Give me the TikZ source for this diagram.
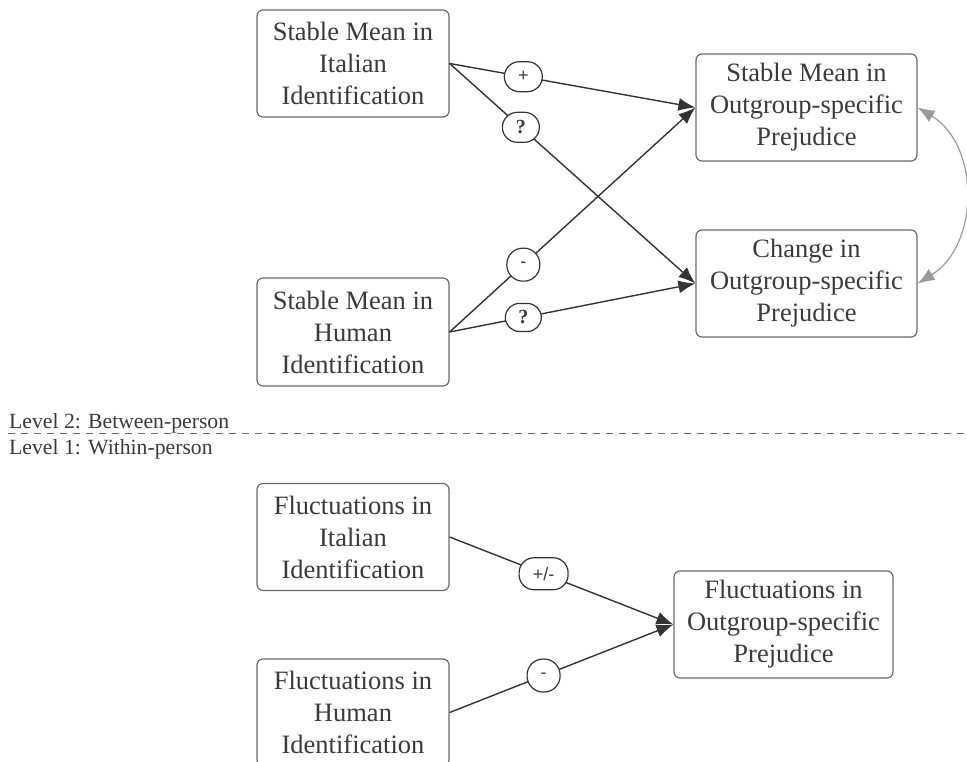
\documentclass[tikz,border=0pt]{standalone}
\usepackage{fontspec}
\setmainfont{Liberation Serif}
\newfontfamily\labsans{Liberation Sans}
\usetikzlibrary{arrows.meta}
\definecolor{txt}{HTML}{3A3A3A}
\definecolor{bord}{HTML}{6A6A6A}
\definecolor{lin}{HTML}{333333}
\definecolor{gline}{HTML}{9A9A9A}
\tikzset{
  box/.style={draw=bord, line width=1.2pt, rounded corners=6pt, inner sep=0pt,
    align=center, text=txt, font=\fontsize{26.5}{32}\selectfont},
  arr/.style={draw=lin, line width=1.4pt, -{Latex[length=17pt,width=13pt]}},
  lab/.style={draw=lin, line width=1.2pt, fill=white, rounded corners=15pt,
    inner sep=0pt, minimum height=30pt, text=txt, font=\labsans\fontsize{18}{20}\selectfont},
  qlab/.style={lab, font=\bfseries\fontsize{20}{22}\selectfont},
  garr/.style={draw=gline, line width=1.2pt, {Latex[length=17pt,width=13pt]}-{Latex[length=17pt,width=13pt]}},
  lvl/.style={text=txt, font=\fontsize{21.7}{24}\selectfont, inner sep=0pt, anchor=base west}
}
\begin{document}
\begin{tikzpicture}[x=1pt,y=-1pt]
\useasboundingbox (0,0) rectangle (967,762);
\node[box, minimum width=192pt, minimum height=107pt] (A) at (353,63.5) {Stable Mean in\\Italian\\Identification};
\node[box, minimum width=221pt, minimum height=107pt] (B) at (806.5,107.5) {Stable Mean in\\Outgroup-specific\\Prejudice};
\node[box, minimum width=221pt, minimum height=107pt] (C) at (806.5,283.5) {Change in\\Outgroup-specific\\Prejudice};
\node[box, minimum width=192pt, minimum height=108pt] (D) at (353,332) {Stable Mean in\\Human\\Identification};
\node[box, minimum width=192pt, minimum height=107pt] (E) at (353,537) {Fluctuations in\\Italian\\Identification};
\node[box, minimum width=219pt, minimum height=107pt] (F) at (783.5,624.5) {Fluctuations in\\Outgroup-specific\\Prejudice};
\node[box, minimum width=192pt, minimum height=107pt] (G) at (353,712.5) {Fluctuations in\\Human\\Identification};

\draw[arr] (A.east) -- node[lab, pos=.3, minimum width=38pt] {+} (B.west);
\draw[arr] (A.east) -- node[qlab, pos=.29, minimum width=37pt] {?} (C.west);
\draw[arr] (D.east) -- node[lab, pos=.30, minimum width=33pt, minimum height=33pt, rounded corners=16pt] {-} (B.west);
\draw[arr] (D.east) -- node[qlab, pos=.30, minimum width=36pt, minimum height=28pt, rounded corners=14pt] {?} (C.west);
\draw[garr] (B.east) .. controls (980,145) and (980,245) .. (C.east);

\draw[arr] (E.east) -- node[lab, pos=.42, minimum width=49pt, minimum height=32pt] {+/-} (F.west);
\draw[arr] (G.east) -- node[lab, pos=.42, minimum width=33pt, minimum height=33pt, rounded corners=16pt] {-} (F.west);

\coordinate (dl) at (8,433);
\coordinate (dr) at (967,433);
\draw[draw=bord, line width=1pt, dash pattern=on 7pt off 6pt] (dl) -- (dr);
\node[lvl] (L2) at (9,428) {Level 2: Between-person};
\node[lvl] (L1) at (9,454) {Level 1: Within-person};
\end{tikzpicture}
\end{document}
